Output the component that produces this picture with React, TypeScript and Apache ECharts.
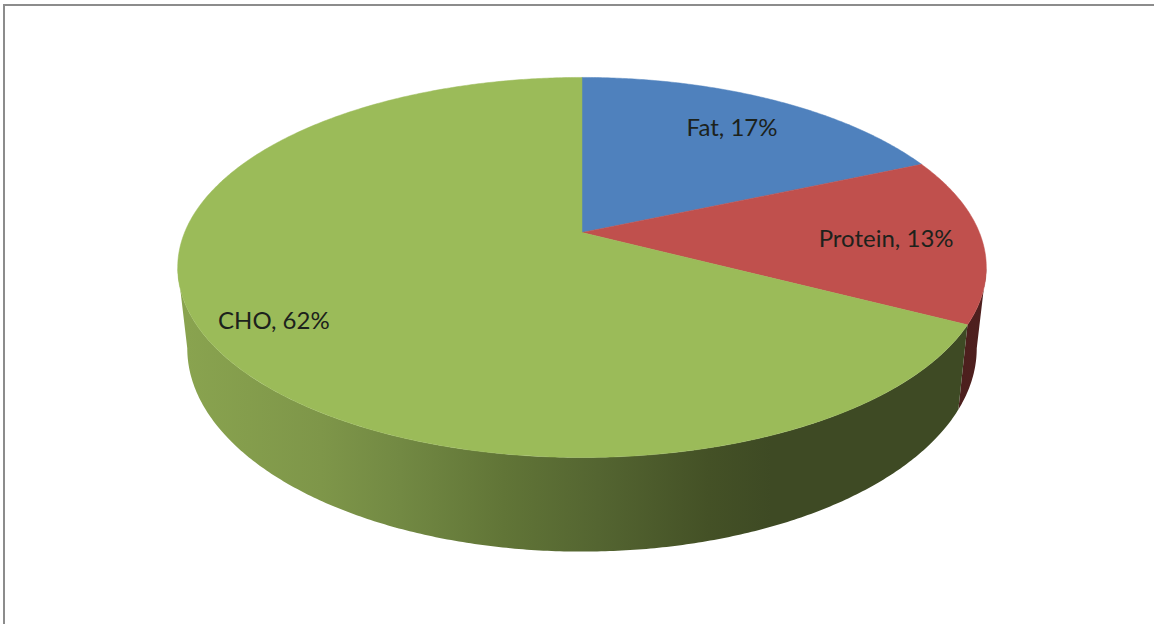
import React, { useEffect, useRef } from "react";
import * as echarts from "echarts";

// Share of energy by macronutrient, as printed on the slice labels.
const categories = ["Fat", "Protein", "CHO"];
const percentages = [17, 13, 62];

const topColors = ["#4f81bd", "#c0504d", "#9bbb59"];
const LABEL_FONT = "Lato";
const LABEL_SIZE = 24;
const LABEL_RADII = [0.77, 0.762, 0.835];

// Perspective of the disc: a unit circle is projected with foreshortening k.
const CX = 582;
const K = 0.184;
const TOP_RIM = { b: 397.4, a: 183.6, y0: 232.5 };
const BOTTOM_RIM = { b: 388, a: 196.5, y0: 310.8 };
// Angles at which the rim silhouette turns, seen from 12 o'clock clockwise.
const WALL_FROM = 100.6;
const WALL_TO = 259.4;

type Rim = { b: number; a: number; y0: number };

function project(rim: Rim, deg: number, r = 1): [number, number] {
  const t = (deg * Math.PI) / 180;
  const u = r * Math.sin(t);
  const v = r * Math.cos(t);
  const w = 1 + K * v;
  return [CX + (rim.b * u) / w, rim.y0 - (rim.a * v) / w];
}

function arc(rim: Rim, from: number, to: number): [number, number][] {
  const pts: [number, number][] = [];
  const n = Math.max(2, Math.ceil(Math.abs(to - from) * 2));
  for (let i = 0; i <= n; i++) pts.push(project(rim, from + ((to - from) * i) / n));
  return pts;
}

const total = percentages.reduce((s, v) => s + v, 0);
let running = 0;
const sliceData = categories.map((name, i) => {
  const item = { name, value: [percentages[i], running, i] };
  running += percentages[i];
  return item;
});

const greenWall = new echarts.graphic.LinearGradient(
  187,
  0,
  977,
  0,
  [
    { offset: 0, color: "#89a34f" },
    { offset: 0.17, color: "#7e9649" },
    { offset: 0.27, color: "#728943" },
    { offset: 0.4, color: "#617537" },
    { offset: 0.52, color: "#546531" },
    { offset: 0.66, color: "#445126" },
    { offset: 0.74, color: "#3e4a24" },
    { offset: 1, color: "#3e4a24" },
  ],
  true
);
const redWall = new echarts.graphic.LinearGradient(
  957,
  0,
  986,
  0,
  [
    { offset: 0, color: "#4c1f1d" },
    { offset: 1, color: "#4f201f" },
  ],
  true
);

function sliceAngles(api: any): [number, number, number] {
  const start = (api.value(1) / total) * 360;
  const end = ((api.value(1) + api.value(0)) / total) * 360;
  return [start, end, api.value(2)];
}

function renderWall(_: any, api: any) {
  const [start, end, idx] = sliceAngles(api);
  const from = Math.max(start, WALL_FROM);
  const to = Math.min(end, WALL_TO);
  if (to <= from) return { type: "group", children: [] };
  const points = [...arc(TOP_RIM, from, to), ...arc(BOTTOM_RIM, to, from)];
  const fill = idx === 1 ? redWall : greenWall;
  return { type: "polygon", shape: { points }, style: { fill } };
}

function renderTop(_: any, api: any) {
  const [start, end, idx] = sliceAngles(api);
  const apex = project(TOP_RIM, 0, 0);
  const color = topColors[idx];
  const [lx, ly] = project(TOP_RIM, (start + end) / 2, LABEL_RADII[idx]);
  return {
    type: "group",
    children: [
      {
        type: "polygon",
        shape: { points: [apex, ...arc(TOP_RIM, start, end)] },
        style: { fill: color, stroke: color, lineWidth: 0.5 },
      },
      {
        type: "text",
        x: lx,
        y: ly,
        style: {
          text: `${categories[idx]}, ${api.value(0)}%`,
          fill: "#1c221c",
          fontFamily: LABEL_FONT,
          fontSize: LABEL_SIZE,
          align: "center",
          verticalAlign: "middle",
        },
      },
    ],
  };
}

export default function App() {
  const ref = useRef<HTMLDivElement>(null);

  useEffect(() => {
    const chart = echarts.init(ref.current!, null, { renderer: "svg" });
    chart.setOption({
      animation: false,
      backgroundColor: "#ffffff",
      graphic: [
        { type: "rect", shape: { x: 3, y: 4, width: 1151, height: 2 }, style: { fill: "#8c8c8c" } },
        { type: "rect", shape: { x: 3, y: 4, width: 2, height: 620 }, style: { fill: "#8c8c8c" } },
      ],
      series: [
        { type: "custom", coordinateSystem: "none", renderItem: renderWall, data: sliceData, z: 1 },
        { type: "custom", coordinateSystem: "none", renderItem: renderTop, data: sliceData, z: 2 },
      ],
    });
    return () => chart.dispose();
  }, []);

  return (
    <div
      ref={ref}
      style={{ position: "absolute", left: 0, top: 0, width: 1154, height: 624 }}
    />
  );
}
